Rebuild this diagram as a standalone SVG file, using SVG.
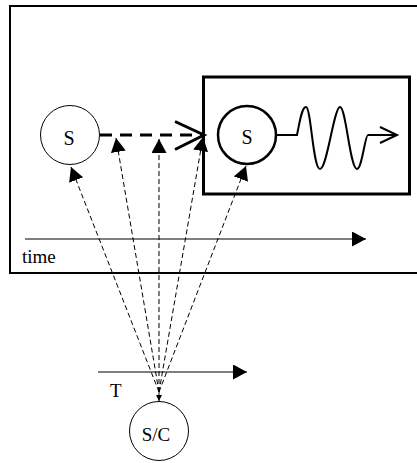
<svg xmlns="http://www.w3.org/2000/svg" width="417" height="463" viewBox="0 0 417 463">
<style>
.lbl{font-family:"Liberation Serif","DejaVu Serif",serif;font-size:20px;fill:#000;text-anchor:middle}
.axl{font-family:"Liberation Serif","DejaVu Serif",serif;font-size:19px;fill:#000}
.thin{fill:none;stroke:#000;stroke-width:1;stroke-dasharray:5 3}
</style>
<defs>
<marker id="tri" markerUnits="userSpaceOnUse" markerWidth="16" markerHeight="16" refX="14" refY="7.5" orient="auto" viewBox="0 0 16 16">
<path d="M0,0 L14,7.5 L0,15 Z" fill="#000"/>
</marker>
<marker id="triSmall" markerUnits="userSpaceOnUse" markerWidth="8" markerHeight="8" refX="6" refY="3" orient="auto" viewBox="0 0 8 8">
<path d="M0,0 L6,3 L0,6 Z" fill="#000"/>
</marker>
</defs>
<rect x="0" y="0" width="417" height="463" fill="#fff"/>
<g id="outer-frame">
<rect x="10" y="6" width="420" height="267" fill="none" stroke="#000" stroke-width="2"/>
</g>
<g id="inner-frame">
<rect x="203.5" y="77" width="206" height="117" fill="none" stroke="#000" stroke-width="3"/>
</g>
<g id="node-s1">
<circle cx="70" cy="135" r="29.5" fill="#fff" stroke="#000" stroke-width="1"/>
<text class="lbl" x="69" y="145">S</text>
</g>
<g id="node-s2">
<circle cx="247" cy="135" r="29" fill="#fff" stroke="#000" stroke-width="2.5"/>
<text class="lbl" x="247" y="144">S</text>
</g>
<g id="node-sc">
<circle cx="159" cy="431" r="29.5" fill="#fff" stroke="#000" stroke-width="1"/>
<text class="lbl" x="156" y="441" style="font-size:19px">S/C</text>
</g>
<g id="wave">
<path d="M277,135 L297,135 C300,120 302,107 306,107 C311,107 313,169 320,169 C327,169 334,107 340,107 C346,107 350,169 357,169 C362,169 365,135 368,135 L397,135" fill="none" stroke="#000" stroke-width="2"/>
<path d="M380,127 L397,135 L380,143" fill="none" stroke="#000" stroke-width="2"/>
</g>
<g id="axes">
<line x1="25" y1="239" x2="366" y2="239" stroke="#000" stroke-width="1.2" marker-end="url(#tri)"/>
<text class="axl" x="22" y="263">time</text>
<line x1="98" y1="372" x2="247" y2="372" stroke="#000" stroke-width="1.2" marker-end="url(#tri)"/>
<text class="axl" x="110" y="397">T</text>
</g>
<g id="connectors">
<line x1="100" y1="135" x2="202" y2="135" stroke="#000" stroke-width="3" stroke-dasharray="12 8"/>
<path d="M175,121.5 L204,135 L175,149.5" fill="none" stroke="#000" stroke-width="3"/>
<line class="thin" x1="159" y1="392" x2="71" y2="167" marker-end="url(#tri)"/>
<line class="thin" x1="159" y1="392" x2="116" y2="138" marker-end="url(#tri)"/>
<line class="thin" x1="159" y1="392" x2="159" y2="139" marker-end="url(#tri)"/>
<line class="thin" x1="159" y1="392" x2="203" y2="137" marker-end="url(#tri)"/>
<line class="thin" x1="159" y1="392" x2="246" y2="166" marker-end="url(#tri)"/>
<line x1="159" y1="392" x2="159" y2="401" stroke="#000" stroke-width="1" marker-end="url(#triSmall)"/>
</g>
</svg>
